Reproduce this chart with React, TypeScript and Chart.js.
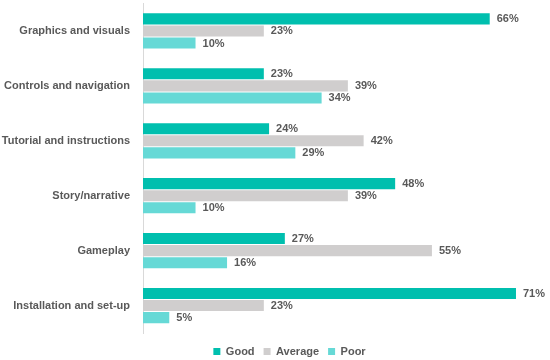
import React, { useEffect, useRef } from "react";
import { Chart, registerables } from "chart.js";

Chart.register(...registerables);

const categories = [
  "Graphics and visuals",
  "Controls and navigation",
  "Tutorial and instructions",
  "Story/narrative",
  "Gameplay",
  "Installation and set-up",
];
const goodValues = [66, 23, 24, 48, 27, 71];
const averageValues = [23, 39, 42, 39, 55, 23];
const poorValues = [10, 34, 29, 10, 16, 5];

const FONT = "'Liberation Sans', Arial, sans-serif";
const TEXT = "#595959";

const dataLabels = {
  id: "dataLabels",
  afterDatasetsDraw(chart: any) {
    const ctx = chart.ctx;
    ctx.save();
    ctx.font = `bold 11px ${FONT}`;
    ctx.fillStyle = TEXT;
    ctx.textAlign = "left";
    ctx.textBaseline = "middle";
    chart.data.datasets.forEach((ds: any, i: number) => {
      const meta = chart.getDatasetMeta(i);
      meta.data.forEach((el: any, j: number) => {
        ctx.fillText(ds.data[j] + "%", el.x + 7, el.y + 0.5);
      });
    });
    ctx.restore();
  },
};

// nudge the legend box so its items sit like the reference
const legendShift = {
  id: "legendShift",
  afterLayout(chart: any) {
    if (chart.legend) {
      chart.legend.left = 42;
      chart.legend.top += 4;
    }
  },
};

export default function App() {
  const ref = useRef<HTMLCanvasElement>(null);
  useEffect(() => {
    if (!ref.current) return;
    const chart = new Chart(ref.current, {
      type: "bar",
      data: {
        labels: categories,
        datasets: [
          { label: "Good", data: goodValues, backgroundColor: "#00BFAE" },
          { label: "Average", data: averageValues, backgroundColor: "#D0CECE" },
          { label: "Poor", data: poorValues, backgroundColor: "#66D9D6" },
        ],
      },
      options: {
        indexAxis: "y",
        animation: false,
        responsive: false,
        maintainAspectRatio: false,
        datasets: { bar: { categoryPercentage: 0.66, barPercentage: 0.92 } },
        layout: { padding: { top: 3.5, left: 0, right: 13, bottom: 0 } },
        scales: {
          x: { display: false, min: 0, max: 75 },
          y: {
            grid: { display: false, drawTicks: false },
            border: { display: true, color: "#D9D9D9", width: 1 },
            ticks: {
              padding: 13,
              color: TEXT,
              font: { family: FONT, size: 11, weight: "bold" },
            },
            afterFit: (scale: any) => {
              scale.width = 143;
              scale.paddingTop = 0;
              scale.paddingBottom = 0;
            },
          },
        },
        plugins: {
          legend: {
            position: "bottom",
            labels: {
              boxWidth: 7,
              boxHeight: 7,
              padding: 9,
              color: TEXT,
              font: { family: FONT, size: 11, weight: "bold" },
            },
          },
          tooltip: { enabled: false },
        },
      },
      plugins: [dataLabels, legendShift],
    });
    return () => chart.destroy();
  }, []);
  return (
    <div style={{ position: "absolute", left: 0, top: 0, width: 550, height: 360, overflow: "hidden" }}>
      <canvas ref={ref} width={550} height={363} style={{ width: 550, height: 363, display: "block" }} />
    </div>
  );
}
